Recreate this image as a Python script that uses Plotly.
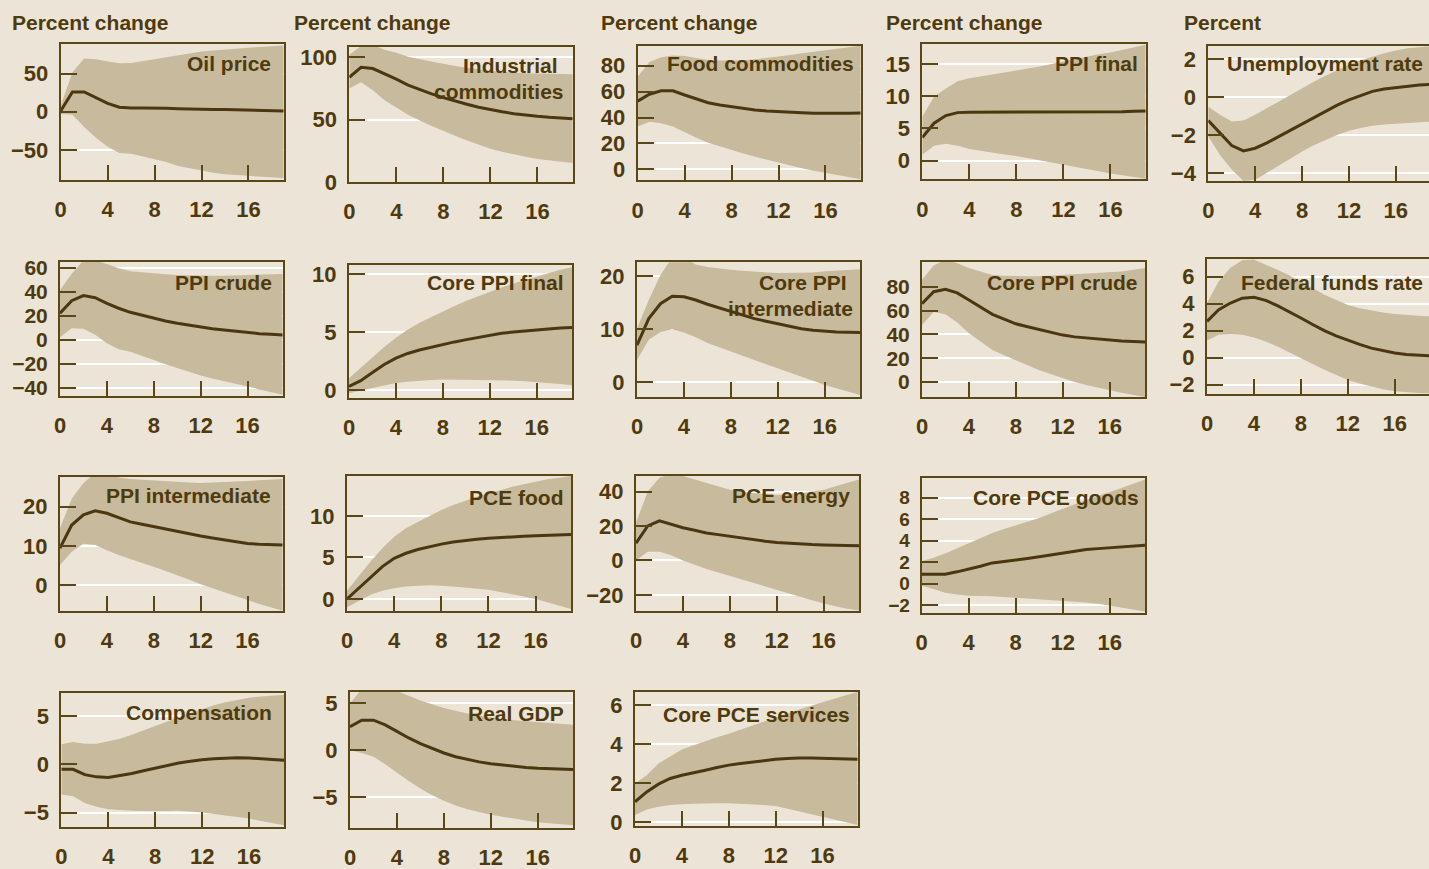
import plotly.graph_objects as go

# Quarters after the shock
quarters = list(range(20))

# Median response and band (upper / lower) for each variable
oil_mid = [1, 26, 26, 18, 11, 6, 5, 5, 5, 4.5, 4, 3.5, 3, 3, 3, 2.5, 2, 2, 1.5, 1]
oil_hi = [8, 52, 70, 69, 66, 63.5, 64, 66, 69, 71.5, 74, 76.5, 79, 80.5, 82, 83, 84, 85, 86, 87]
oil_lo = [-3, -4, -20, -34, -46, -54, -55, -58, -62, -66, -71, -74, -77, -80, -82, -83, -84, -85, -86, -87]

ind_mid = [84, 92, 91, 87, 82.5, 77.7, 74, 70.7, 67.7, 64.8, 62.3, 60, 58, 56.3, 54.8, 53.6, 52.7, 51.9, 51.3, 50.8]
ind_hi = [102, 109, 110, 106, 103.7, 100.5, 98.4, 96.4, 94.6, 93, 91.6, 90.3, 89.2, 88.3, 87.6, 87.2, 87, 86.8, 86.6, 86.5]
ind_lo = [75, 80, 73.6, 65.6, 59.7, 54, 49.4, 45, 40.8, 37, 33.3, 29.8, 26.6, 24.2, 22, 20.2, 18.5, 17.2, 16.2, 15.3]

food_mid = [52.7, 58, 60.7, 60.7, 57.4, 54.3, 51.4, 49.7, 48.3, 47, 45.8, 45.1, 44.5, 44.1, 43.7, 43.4, 43.2, 43.2, 43.3, 43.5]
food_hi = [71.5, 83, 86.5, 88, 87.5, 85.7, 84.4, 84, 83.9, 84.3, 85, 86, 87, 88.3, 89.6, 90.8, 92, 93.2, 94.3, 95.4]
food_lo = [33, 36.8, 35.5, 33, 29, 24.4, 20.5, 17.6, 15, 12.3, 9.7, 7.3, 5.1, 2.9, 0.8, -1.2, -3, -4.6, -6.2, -7.7]

ppif_mid = [3.6, 5.8, 7, 7.45, 7.5, 7.5, 7.5, 7.5, 7.5, 7.5, 7.5, 7.5, 7.5, 7.5, 7.5, 7.55, 7.55, 7.6, 7.65, 7.7]
ppif_hi = [6.8, 9.9, 11.2, 12.3, 12.8, 13.1, 13.3, 13.6, 14, 14.3, 14.6, 15, 15.4, 15.8, 16.2, 16.5, 16.8, 17.2, 17.6, 18]
ppif_lo = [0.9, 2.3, 2.6, 2.3, 1.8, 1.5, 1.2, 0.95, 0.7, 0.35, 0, -0.35, -0.7, -1, -1.3, -1.65, -2, -2.3, -2.55, -2.8]

unemp_mid = [-1.23, -1.9, -2.54, -2.82, -2.68, -2.4, -2.07, -1.72, -1.37, -1.04, -0.72, -0.42, -0.14, 0.1, 0.3, 0.42, 0.5, 0.58, 0.63, 0.66]
unemp_hi = [-0.5, -0.93, -1.28, -1.23, -0.93, -0.58, -0.23, 0.12, 0.47, 0.8, 1.12, 1.42, 1.7, 1.93, 2.13, 2.3, 2.45, 2.56, 2.62, 2.66]
unemp_lo = [-2.07, -3.03, -3.8, -4.4, -4.34, -4.0, -3.6, -3.22, -2.85, -2.53, -2.24, -1.99, -1.77, -1.62, -1.5, -1.44, -1.4, -1.35, -1.31, -1.28]

ppic_mid = [22, 32.5, 36.7, 35, 30.3, 26.2, 22.8, 20.2, 17.8, 15.6, 13.6, 11.9, 10.3, 9.1, 8, 6.9, 5.8, 5, 4.4, 3.9]
ppic_hi = [41.4, 55, 66, 66, 63, 59.5, 57, 56, 55, 54.5, 54, 53.6, 53.3, 53.3, 53.3, 53.6, 54, 54.3, 54.5, 54.7]
ppic_lo = [2, 9.5, 9, 4, -3, -8, -10, -13.5, -17, -20.5, -24, -27, -30, -32.5, -35, -37, -39, -41.5, -44, -46]

cppif_mid = [0.3, 0.8, 1.5, 2.2, 2.75, 3.15, 3.45, 3.7, 3.95, 4.15, 4.35, 4.55, 4.75, 4.9, 5.0, 5.1, 5.2, 5.3, 5.35, 5.4]
cppif_hi = [1.0, 1.9, 2.8, 3.7, 4.5, 5.2, 5.8, 6.3, 6.8, 7.25, 7.7, 8.1, 8.5, 8.85, 9.2, 9.5, 9.8, 10.1, 10.4, 10.6]
cppif_lo = [-0.3, -0.05, 0.2, 0.4, 0.6, 0.7, 0.8, 0.85, 0.9, 0.9, 0.9, 0.9, 0.85, 0.82, 0.8, 0.75, 0.7, 0.6, 0.5, 0.4]

cppii_mid = [7, 12, 14.8, 16.2, 16.1, 15.5, 14.7, 14, 13.3, 12.6, 12, 11.5, 11, 10.5, 10.1, 9.8, 9.6, 9.5, 9.45, 9.4]
cppii_hi = [10.1, 15.5, 20.2, 23.5, 23.5, 22.2, 21.7, 21.4, 21.2, 21, 20.8, 20.7, 20.6, 20.6, 20.6, 20.7, 20.9, 21, 21.2, 21.3]
cppii_lo = [4.2, 8, 9.5, 10, 9.4, 8.5, 7.4, 6.6, 5.75, 5, 4.2, 3.4, 2.6, 1.8, 1.05, 0.3, -0.5, -1.2, -1.8, -2.4]

cppic_mid = [66, 76, 78, 75, 69, 63, 57, 53, 49, 46.5, 44, 41.5, 39.5, 38, 37, 36, 35, 34.5, 34, 33.6]
cppic_hi = [86, 98, 103, 100, 96, 93, 90, 89.5, 89, 89, 89, 89.5, 90, 90.5, 91, 91.5, 92, 93, 94.5, 96]
cppic_lo = [48, 59, 57, 50, 41, 34, 27, 22.5, 18.5, 14, 10, 6.5, 3, 0, -2.5, -5, -7, -9, -11, -12.6]

ffr_mid = [2.68, 3.55, 4.04, 4.4, 4.46, 4.24, 3.84, 3.4, 2.93, 2.45, 1.99, 1.6, 1.27, 0.97, 0.7, 0.5, 0.33, 0.22, 0.16, 0.13]
ffr_hi = [4.04, 5.65, 6.65, 7.2, 7.26, 6.9, 6.5, 6.1, 5.65, 5.15, 4.66, 4.25, 3.9, 3.65, 3.47, 3.33, 3.23, 3.15, 3.1, 3.05]
ffr_lo = [1.27, 1.69, 1.74, 1.69, 1.49, 1.19, 0.82, 0.4, -0.05, -0.48, -0.9, -1.3, -1.66, -1.93, -2.15, -2.35, -2.5, -2.58, -2.62, -2.65]

ppii_mid = [9.4, 15.3, 17.9, 18.9, 18.3, 17.2, 16.1, 15.5, 14.9, 14.2, 13.6, 13, 12.5, 12, 11.5, 11, 10.6, 10.4, 10.3, 10.2]
ppii_hi = [14.5, 22, 26, 28.5, 28.5, 27.4, 27, 26.8, 26.6, 26.4, 26.2, 26.1, 26, 26.1, 26.2, 26.3, 26.5, 26.7, 26.9, 27]
ppii_lo = [5.1, 8.5, 10.5, 10.2, 8.9, 7.65, 6.55, 5.6, 4.7, 3.6, 2.55, 1.4, 0.2, -0.8, -1.7, -2.8, -3.8, -4.8, -5.7, -6.55]

pcef_mid = [0, 1.3, 2.7, 3.9, 4.9, 5.5, 5.95, 6.3, 6.6, 6.85, 7.05, 7.2, 7.3, 7.4, 7.5, 7.55, 7.6, 7.65, 7.7, 7.75]
pcef_hi = [1, 2.8, 4.5, 6.1, 7.5, 8.5, 9.3, 10.0, 10.7, 11.3, 11.8, 12.3, 12.7, 13.1, 13.5, 13.8, 14.1, 14.4, 14.6, 14.8]
pcef_lo = [-1, -0.2, 0.5, 1.0, 1.3, 1.5, 1.6, 1.65, 1.6, 1.5, 1.4, 1.25, 1.1, 0.85, 0.6, 0.3, 0, -0.4, -0.8, -1.2]

pcee_mid = [10, 20, 23, 21, 19, 17.5, 16, 15, 14, 13, 12, 11.2, 10.5, 10, 9.5, 9.2, 9, 8.8, 8.6, 8.5]
pcee_hi = [22, 40, 48, 50, 49, 47, 45, 43, 41, 40, 39, 38.5, 38, 38.5, 39, 40, 41, 43, 45, 47]
pcee_lo = [0, 5, 5, 3, 0, -2.5, -5, -7, -9, -11, -13, -15, -17, -19, -21, -23, -25, -26.5, -28, -29]

cpceg_mid = [0.88, 0.9, 0.88, 1.1, 1.35, 1.62, 1.93, 2.05, 2.18, 2.34, 2.5, 2.68, 2.86, 3.02, 3.17, 3.26, 3.33, 3.41, 3.49, 3.57]
cpceg_hi = [2.09, 2.4, 2.8, 3.27, 3.73, 4.2, 4.72, 5.08, 5.43, 5.77, 6.1, 6.54, 6.98, 7.4, 7.8, 8.15, 8.5, 8.9, 9.3, 9.7]
cpceg_lo = [-0.2, -0.5, -0.85, -1.0, -1.13, -1.15, -1.16, -1.22, -1.28, -1.38, -1.47, -1.54, -1.6, -1.68, -1.75, -1.87, -2.0, -2.2, -2.4, -2.6]

comp_mid = [-0.52, -0.52, -1.07, -1.3, -1.37, -1.2, -0.96, -0.67, -0.38, -0.12, 0.13, 0.31, 0.48, 0.57, 0.65, 0.67, 0.65, 0.6, 0.5, 0.41]
comp_hi = [2.06, 2.3, 2.13, 2.13, 2.37, 2.65, 3.06, 3.53, 4.0, 4.43, 4.87, 5.3, 5.74, 6.1, 6.42, 6.65, 6.87, 7.0, 7.1, 7.2]
comp_lo = [-3.12, -3.3, -3.99, -4.4, -4.64, -4.74, -4.8, -4.83, -4.85, -4.82, -4.8, -4.88, -4.98, -5.1, -5.26, -5.43, -5.6, -5.85, -6.1, -6.3]

gdp_mid = [2.5, 3.2, 3.2, 2.7, 2.0, 1.3, 0.7, 0.2, -0.3, -0.7, -1.0, -1.25, -1.45, -1.6, -1.75, -1.85, -1.93, -1.98, -2.02, -2.05]
gdp_hi = [5, 6.5, 7, 6.8, 6.3, 5.8, 5.3, 4.9, 4.5, 4.2, 3.9, 3.7, 3.5, 3.3, 3.2, 3.1, 3.0, 2.9, 2.8, 2.7]
gdp_lo = [0, -0.3, -0.7, -1.5, -2.4, -3.3, -4.1, -4.8, -5.4, -5.9, -6.3, -6.6, -6.9, -7.1, -7.3, -7.5, -7.7, -7.8, -7.9, -8.0]

cpces_mid = [1.03, 1.54, 1.94, 2.23, 2.4, 2.52, 2.66, 2.8, 2.92, 3.0, 3.08, 3.15, 3.22, 3.26, 3.29, 3.28, 3.27, 3.25, 3.24, 3.22]
cpces_hi = [1.97, 2.4, 3.0, 3.38, 3.72, 3.94, 4.16, 4.35, 4.54, 4.75, 4.97, 5.18, 5.4, 5.6, 5.78, 5.98, 6.17, 6.35, 6.52, 6.68]
cpces_lo = [0.34, 0.64, 0.77, 0.86, 0.91, 0.93, 0.95, 0.95, 0.95, 0.93, 0.9, 0.86, 0.81, 0.67, 0.51, 0.38, 0.26, 0.12, -0.02, -0.17]

x_ticks = [0, 4, 8, 12, 16]
header_texts = ["Percent change", "Percent change", "Percent change", "Percent change", "Percent"]

# ---- styling ----
W, H = 1429, 869
BG = "#ECE4D7"
BAND = "#C8BA9D"
INK = "#4E3A0C"
LINE = "#4A3610"
FRAME = "#5A4718"
FONT = "Liberation Sans, Arial, sans-serif"

# panel frames in pixels: left, right, top, bottom; fs = tick font size
panels = [
    dict(title=["Oil price"], mid=oil_mid, hi=oil_hi, lo=oil_lo, box=(60.7, 283.7, 44.3, 180),
         yr=[-89.5, 88.5], yt=[-50, 0, 50], tl=[(273, 63)]),
    dict(title=["Industrial", "commodities"], mid=ind_mid, hi=ind_hi, lo=ind_lo, box=(349.3, 572.7, 46.7, 182),
         yr=[0, 108.5], yt=[0, 50, 100], tl=[(560, 65), (566, 91)]),
    dict(title=["Food commodities"], mid=food_mid, hi=food_hi, lo=food_lo, box=(637.7, 860.7, 45.7, 180.3),
         yr=[-8.5, 95.5], yt=[0, 20, 40, 60, 80], tl=[(856, 63)]),
    dict(title=["PPI final"], mid=ppif_mid, hi=ppif_hi, lo=ppif_lo, box=(922.3, 1145.7, 44, 179.3),
         yr=[-2.9, 18.1], yt=[0, 5, 10, 15], tl=[(1140, 63)]),
    dict(title=["Unemployment rate"], mid=unemp_mid, hi=unemp_hi, lo=unemp_lo, box=(1208.3, 1431, 46, 181),
         yr=[-4.4, 2.68], yt=[-4, -2, 0, 2], tl=[(1425, 63)]),
    dict(title=["PPI crude"], mid=ppic_mid, hi=ppic_hi, lo=ppic_lo, box=(60, 282.7, 261.7, 396),
         yr=[-47, 65], yt=[-40, -20, 0, 20, 40, 60], tl=[(274, 283)], fs=21),
    dict(title=["Core PPI final"], mid=cppif_mid, hi=cppif_hi, lo=cppif_lo, box=(349, 572, 265, 398),
         yr=[-0.7, 10.8], yt=[0, 5, 10], tl=[(566, 283)]),
    dict(title=["Core PPI", "intermediate"], mid=cppii_mid, hi=cppii_hi, lo=cppii_lo, box=(637, 860, 262.3, 396.7),
         yr=[-2.7, 22.6], yt=[0, 10, 20], tl=[(849, 283), (855, 308)]),
    dict(title=["Core PPI crude"], mid=cppic_mid, hi=cppic_hi, lo=cppic_lo, box=(922, 1145, 262, 397),
         yr=[-12.6, 101], yt=[0, 20, 40, 60, 80], tl=[(1140, 283)], fs=21),
    dict(title=["Federal funds rate"], mid=ffr_mid, hi=ffr_hi, lo=ffr_lo, box=(1207, 1430, 259, 394),
         yr=[-2.7, 7.3], yt=[-2, 0, 2, 4, 6], tl=[(1425, 283)]),
    dict(title=["PPI intermediate"], mid=ppii_mid, hi=ppii_hi, lo=ppii_lo, box=(60, 282.7, 476.7, 611),
         yr=[-6.6, 27.6], yt=[0, 10, 20], tl=[(273, 495)]),
    dict(title=["PCE food"], mid=pcef_mid, hi=pcef_hi, lo=pcef_lo, box=(347, 571, 476, 611),
         yr=[-1.45, 14.8], yt=[0, 5, 10], tl=[(566, 497)]),
    dict(title=["PCE energy"], mid=pcee_mid, hi=pcee_hi, lo=pcee_lo, box=(636, 859, 476, 611),
         yr=[-29.3, 49], yt=[-20, 0, 20, 40], tl=[(852, 495)]),
    dict(title=["Core PCE goods"], mid=cpceg_mid, hi=cpceg_hi, lo=cpceg_lo, box=(921.7, 1145, 478.3, 612.7),
         yr=[-2.7, 9.8], yt=[-2, 0, 2, 4, 6, 8], tl=[(1141, 497)], fs=19),
    dict(title=["Compensation"], mid=comp_mid, hi=comp_hi, lo=comp_lo, box=(61.3, 284.3, 692.7, 826.7),
         yr=[-6.45, 7.4], yt=[-5, 0, 5], tl=[(274, 712)]),
    dict(title=["Real GDP"], mid=gdp_mid, hi=gdp_hi, lo=gdp_lo, box=(350, 573, 692, 828),
         yr=[-8.3, 6.2], yt=[-5, 0, 5], tl=[(566, 713)]),
    dict(title=["Core PCE services"], mid=cpces_mid, hi=cpces_hi, lo=cpces_lo, box=(635, 857.7, 691.7, 825.7),
         yr=[-0.2, 6.7], yt=[0, 2, 4, 6], tl=[(852, 714)]),
]
header_pos = [(10, 23), (292, 23), (599, 23), (884, 23), (1182, 23)]

fig = go.Figure()
layout = dict(
    template="none",
    width=W, height=H, margin=dict(l=0, r=0, t=0, b=0, pad=0),
    paper_bgcolor=BG, plot_bgcolor=BG, showlegend=False,
    font=dict(family=FONT, color=INK, size=20, weight="bold"),
)
annotations = []

for i, p in enumerate(panels, start=1):
    left, right, top, bottom = p["box"]
    xa = "x" if i == 1 else f"x{i}"
    ya = "y" if i == 1 else f"y{i}"
    clipped = right > W
    x_end = 19 * (W - left) / (right - left) if clipped else 19
    r_px = min(right, W)
    fs = p.get("fs", 22)

    band_x = quarters + quarters[::-1]
    band_y = p["hi"] + p["lo"][::-1]
    fig.add_trace(go.Scatter(x=band_x, y=band_y, fill="toself", fillcolor=BAND,
                             line=dict(width=0), mode="lines", hoverinfo="skip",
                             xaxis=xa, yaxis=ya))
    fig.add_trace(go.Scatter(x=quarters, y=p["mid"], mode="lines",
                             line=dict(color=LINE, width=3), xaxis=xa, yaxis=ya))

    key_x = "xaxis" if i == 1 else f"xaxis{i}"
    key_y = "yaxis" if i == 1 else f"yaxis{i}"
    layout[key_x] = dict(
        domain=[left / W, r_px / W], anchor=ya, range=[0, x_end], automargin=False,
        showgrid=False, zeroline=False, showline=True, linecolor=FRAME, linewidth=2,
        mirror=True, ticks="inside", ticklen=15, tickwidth=2, tickcolor=FRAME,
        tickvals=x_ticks, ticklabelstandoff=9,
        tickfont=dict(size=22, color=INK, family=FONT, weight="bold"),
    )
    layout[key_y] = dict(
        domain=[1 - bottom / H, 1 - top / H], anchor=xa, range=p["yr"], automargin=False,
        showgrid=True, gridcolor="#FFFFFF", gridwidth=2, zeroline=False,
        showline=True, linecolor=FRAME, linewidth=2, mirror=not clipped,
        ticks="inside", ticklen=16, tickwidth=2, tickcolor=FRAME,
        tickvals=p["yt"], ticklabelstandoff=6,
        tickfont=dict(size=fs, color=INK, family=FONT, weight="bold"),
    )
    for text, (tx, ty) in zip(p["title"], p["tl"]):
        annotations.append(dict(
            text=text, xref="paper", yref="paper", x=tx / W, y=1 - ty / H,
            xanchor="right", yanchor="middle", showarrow=False,
            font=dict(size=21, color=INK, family=FONT, weight="bold"),
        ))

for text, (hx, hy) in zip(header_texts, header_pos):
    annotations.append(dict(
        text=text, xref="paper", yref="paper", x=hx / W, y=1 - hy / H,
        xanchor="left", yanchor="middle", showarrow=False,
        font=dict(size=21, color=INK, family=FONT, weight="bold"),
    ))

layout["annotations"] = annotations
fig.update_layout(**layout)
fig.write_html("out.html")
